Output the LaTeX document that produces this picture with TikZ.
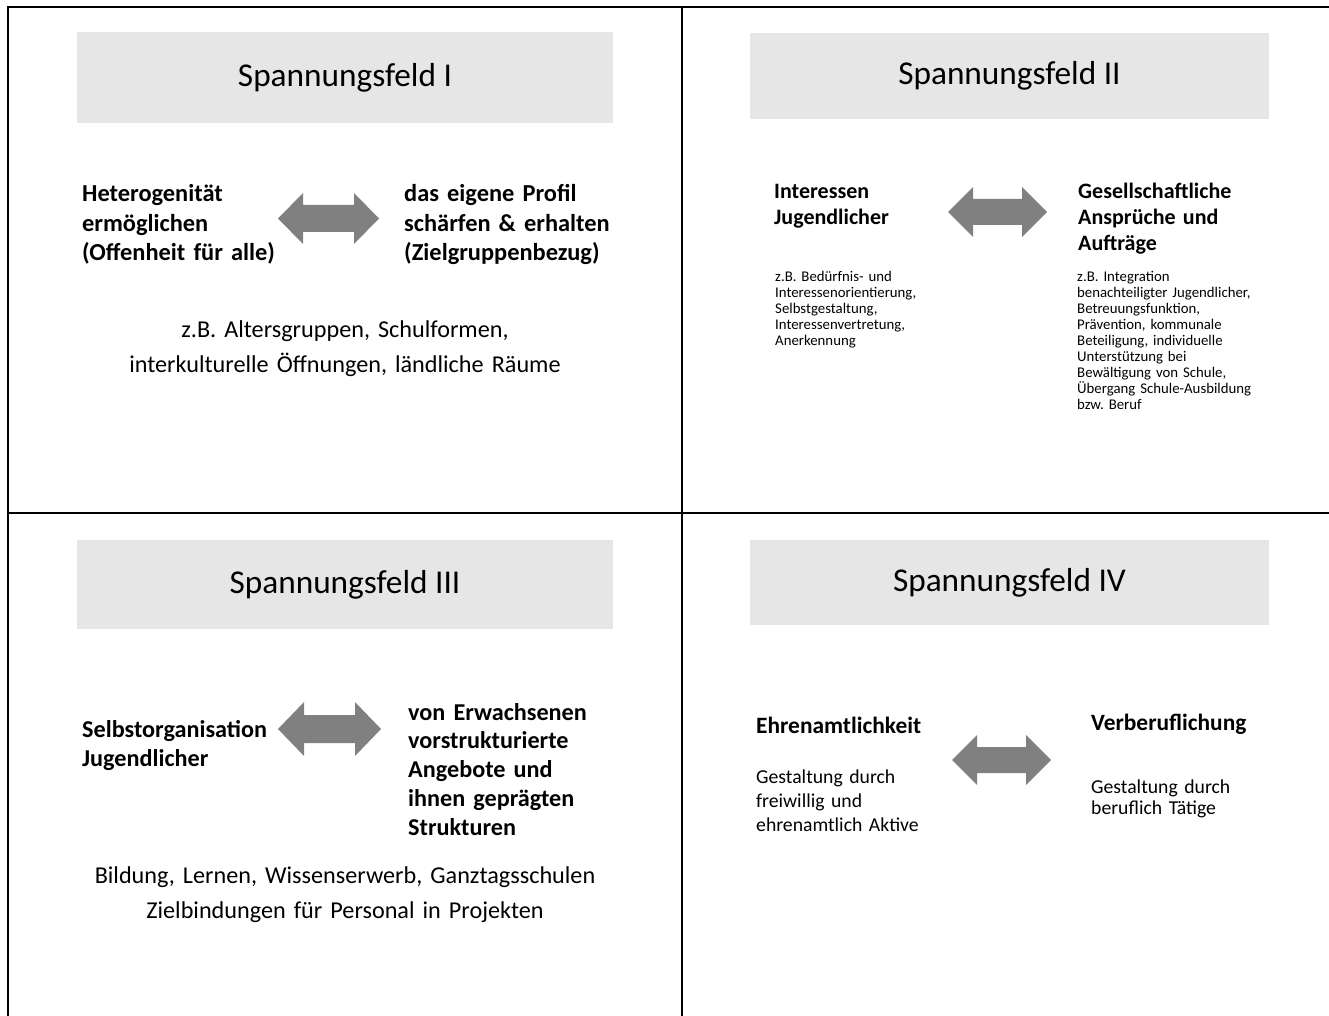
\documentclass[tikz,border=0pt]{standalone}
\usepackage{fontspec}
\setmainfont{Carlito}
\frenchspacing
\definecolor{boxgray}{RGB}{230,230,230}
\definecolor{arrowgray}{RGB}{128,128,128}
\newcommand\dblarr[6]{% x1 x2 yc H S L
\fill[arrowgray] (#1,#3) -- ({#1+#6},{#3-#4}) -- ({#1+#6},{#3-#5}) -- ({#2-#6},{#3-#5}) -- ({#2-#6},{#3-#4}) -- (#2,#3) -- ({#2-#6},{#3+#4}) -- ({#2-#6},{#3+#5}) -- ({#1+#6},{#3+#5}) -- ({#1+#6},{#3+#4}) -- cycle;}
\begin{document}
\begin{tikzpicture}[x=1pt,y=-1pt,
  frame/.style={line width=2.5pt,black},
  titlebox/.style={fill=boxgray,inner sep=0,font=\fontsize{33.3}{40}\selectfont},
  txt/.style={anchor=base west,inner sep=0,align=left,text width=#1},
  ctxt/.style={anchor=base,inner sep=0,align=center,text width=#1},
  bigbold/.style={font=\frenchspacing\bfseries\fontsize{24.4}{29.3}\selectfont},
  bigreg/.style={font=\frenchspacing\fontsize{24.2}{35}\selectfont},
  midbold/.style={font=\frenchspacing\bfseries\fontsize{22}{25.7}\selectfont},
  smallreg/.style={font=\frenchspacing\fontsize{14.8}{16}\selectfont},
  qfourbold/.style={font=\frenchspacing\bfseries\fontsize{23.4}{28}\selectfont}
]
\useasboundingbox (0,0) rectangle (1329,1016);
% frame lines
\coordinate (tl) at (8,7);
\coordinate (tr) at (1329,7);
\coordinate (bl) at (8,1016);
\coordinate (vt) at (682,7);
\coordinate (vb) at (682,1016);
\coordinate (hl) at (8,513);
\coordinate (hr) at (1329,513);
\draw[frame] (bl) -- (tl) -- (tr);
\draw[frame] (vt) -- (vb);
\draw[frame] (hl) -- (hr);

% title boxes
\node[titlebox,minimum width=536pt,minimum height=91pt] (t1) at (345,77.5) {Spannungsfeld I};
\node[titlebox,minimum width=519pt,minimum height=86pt] (t2) at (1009.5,76) {Spannungsfeld II};
\node[titlebox,minimum width=536pt,minimum height=89pt] (t3) at (345,584.5) {Spannungsfeld III};
\node[titlebox,minimum width=519pt,minimum height=85pt] (t4) at (1009.5,582.5) {Spannungsfeld IV};

% arrows
\dblarr{278}{379}{218.5}{25.5}{13.5}{25}
\dblarr{948}{1047}{212}{25}{13}{25}
\dblarr{278}{381}{729}{27}{14}{26}
\dblarr{952}{1051}{760}{25}{13}{25}

% Quadrant I
\node[txt=250pt,bigbold] (q1l) at (82,202) {Heterogenität\\ermöglichen\\(Offenheit für alle)};
\node[txt=250pt,bigbold] (q1r) at (404,202) {das eigene Profil\\schärfen \& erhalten\\(Zielgruppenbezug)};
\node[ctxt=560pt,bigreg] (q1b) at (345,337) {z.B. Altersgruppen, Schulformen,\\interkulturelle Öffnungen, ländliche Räume};

% Quadrant II
\node[txt=200pt,midbold] (q2l) at (774,199) {Interessen\\Jugendlicher};
\node[txt=220pt,midbold] (q2r) at (1078,199) {Gesellschaftliche\\Ansprüche und\\Aufträge};
\node[txt=200pt,smallreg] (q2ls) at (775,281) {z.B. Bedürfnis- und\\Interessenorientierung,\\Selbstgestaltung,\\Interessenvertretung,\\Anerkennung};
\node[txt=220pt,smallreg] (q2rs) at (1077,281) {z.B. Integration\\benachteiligter Jugendlicher,\\Betreuungsfunktion,\\Prävention, kommunale\\Beteiligung, individuelle\\Unterstützung bei\\Bewältigung von Schule,\\Übergang Schule-Ausbildung\\bzw. Beruf};

% Quadrant III
\node[txt=250pt,font=\frenchspacing\bfseries\fontsize{24.2}{29}\selectfont] (q3l) at (82,737) {Selbstorganisation\\Jugendlicher};
\node[txt=250pt,font=\frenchspacing\bfseries\fontsize{24.2}{28.8}\selectfont] (q3r) at (408,720) {von Erwachsenen\\vorstrukturierte\\Angebote und\\ihnen geprägten\\Strukturen};
\node[ctxt=600pt,bigreg] (q3b) at (345,883) {Bildung, Lernen, Wissenserwerb, Ganztagsschulen\\Zielbindungen für Personal in Projekten};

% Quadrant IV
\node[txt=250pt,qfourbold] (q4l) at (756,733) {Ehrenamtlichkeit};
\node[txt=250pt,font=\frenchspacing\fontsize{19.7}{24}\selectfont] (q4ls) at (756,783) {Gestaltung durch\\freiwillig und\\ehrenamtlich Aktive};
\node[txt=220pt,qfourbold] (q4r) at (1091,730) {Verberuflichung};
\node[txt=220pt,font=\frenchspacing\fontsize{19.7}{21.5}\selectfont] (q4rs) at (1091,793) {Gestaltung durch\\beruflich Tätige};
\end{tikzpicture}
\end{document}
